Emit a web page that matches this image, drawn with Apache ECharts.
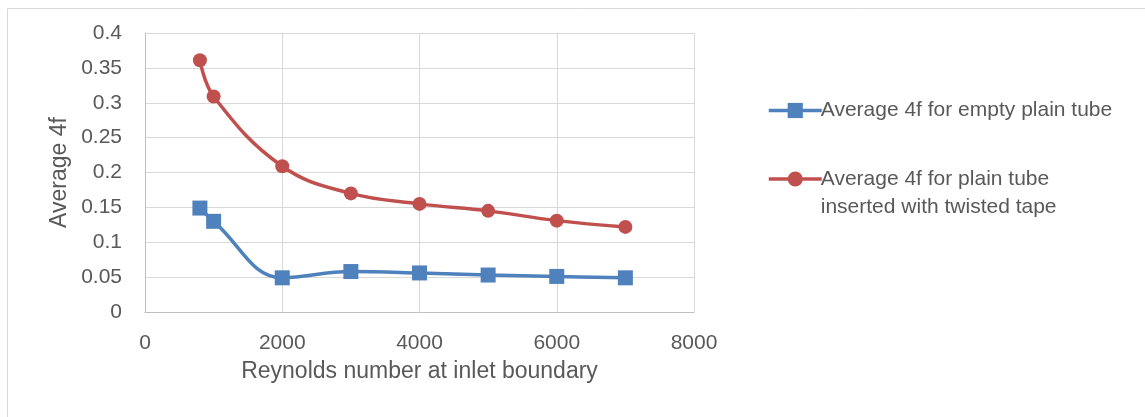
<!DOCTYPE html>
<html><head><meta charset="utf-8">
<script src="https://cdn.jsdelivr.net/npm/echarts@6/dist/echarts.min.js"></script>
<style>html,body{margin:0;padding:0;background:#fff}#c{width:1145px;height:417px}</style>
</head><body><div id="c"></div>
<script>
var reynolds = [800, 1000, 2000, 3000, 4000, 5000, 6000, 7000];
var emptyTube = [0.149, 0.130, 0.049, 0.058, 0.056, 0.053, 0.051, 0.049];
var twistedTape = [0.361, 0.309, 0.209, 0.170, 0.155, 0.145, 0.131, 0.122];
var seriesNames = ['Average 4f for empty plain tube', 'Average 4f for plain tube\ninserted with twisted tape'];
var xTitle = 'Reynolds number at inlet boundary';
var yTitle = 'Average 4f';

function pairs(xs, ys){ return xs.map(function(x,i){return [x, ys[i]];}); }
var FONT = 'Liberation Sans';
var TXT = '#595959';
var chart = echarts.init(document.getElementById('c'), null, {renderer:'canvas'});
chart.setOption({
  animation:false,
  backgroundColor:'#fff',
  graphic:[{type:'rect', shape:{x:7.5,y:8.5,width:1160,height:430}, style:{fill:'none', stroke:'#D9D9D9', lineWidth:1}, silent:true}],
  grid:{left:145, right:451, top:33, bottom:105, containLabel:false},
  legend:[{
    data:[seriesNames[0]], left:762, top:95, orient:'vertical',
    itemWidth:53, itemHeight:19, itemGap:0,
    lineStyle:{width:3.5},
    textStyle:{color:TXT, fontFamily:FONT, fontSize:21, padding:[0,0,0,-6]}
  },{
    data:[seriesNames[1]], left:762, top:132, orient:'vertical',
    itemWidth:53, itemHeight:19, itemGap:0,
    lineStyle:{width:3.5},
    formatter:function(n){ return '\n' + n; },
    textStyle:{color:TXT, fontFamily:FONT, fontSize:21, lineHeight:28, padding:[0,0,0,-6]}
  }],
  xAxis:{type:'value', min:0, max:8000, interval:2000,
    name:xTitle, nameLocation:'middle', nameGap:48,
    nameTextStyle:{color:TXT, fontFamily:FONT, fontSize:23},
    axisLine:{show:true, lineStyle:{color:'#BFBFBF', width:1}},
    axisTick:{show:false},
    axisLabel:{color:TXT, fontFamily:FONT, fontSize:21, margin:21, formatter:function(v){return String(v);}},
    splitLine:{show:true, lineStyle:{color:'#D9D9D9', width:1}}
  },
  yAxis:{type:'value', min:0, max:0.4, interval:0.05,
    name:yTitle, nameLocation:'middle', nameGap:74, nameRotate:90,
    nameTextStyle:{color:TXT, fontFamily:FONT, fontSize:23},
    axisLine:{show:true, lineStyle:{color:'#BFBFBF', width:1}},
    axisTick:{show:false},
    axisLabel:{color:TXT, fontFamily:FONT, fontSize:21, margin:23},
    splitLine:{show:true, lineStyle:{color:'#D9D9D9', width:1}}
  },
  series:[{
    name:seriesNames[0], type:'line', data:pairs(reynolds, emptyTube), smooth:0.4,
    symbol:'rect', symbolSize:15, showSymbol:true,
    lineStyle:{color:'#4F81BD', width:3.5}, itemStyle:{color:'#4F81BD'}
  },{
    name:seriesNames[1], type:'line', data:pairs(reynolds, twistedTape), smooth:0.4,
    symbol:'circle', symbolSize:14, showSymbol:true,
    lineStyle:{color:'#C0504D', width:3.5}, itemStyle:{color:'#C0504D'}
  }]
});
</script></body></html>
